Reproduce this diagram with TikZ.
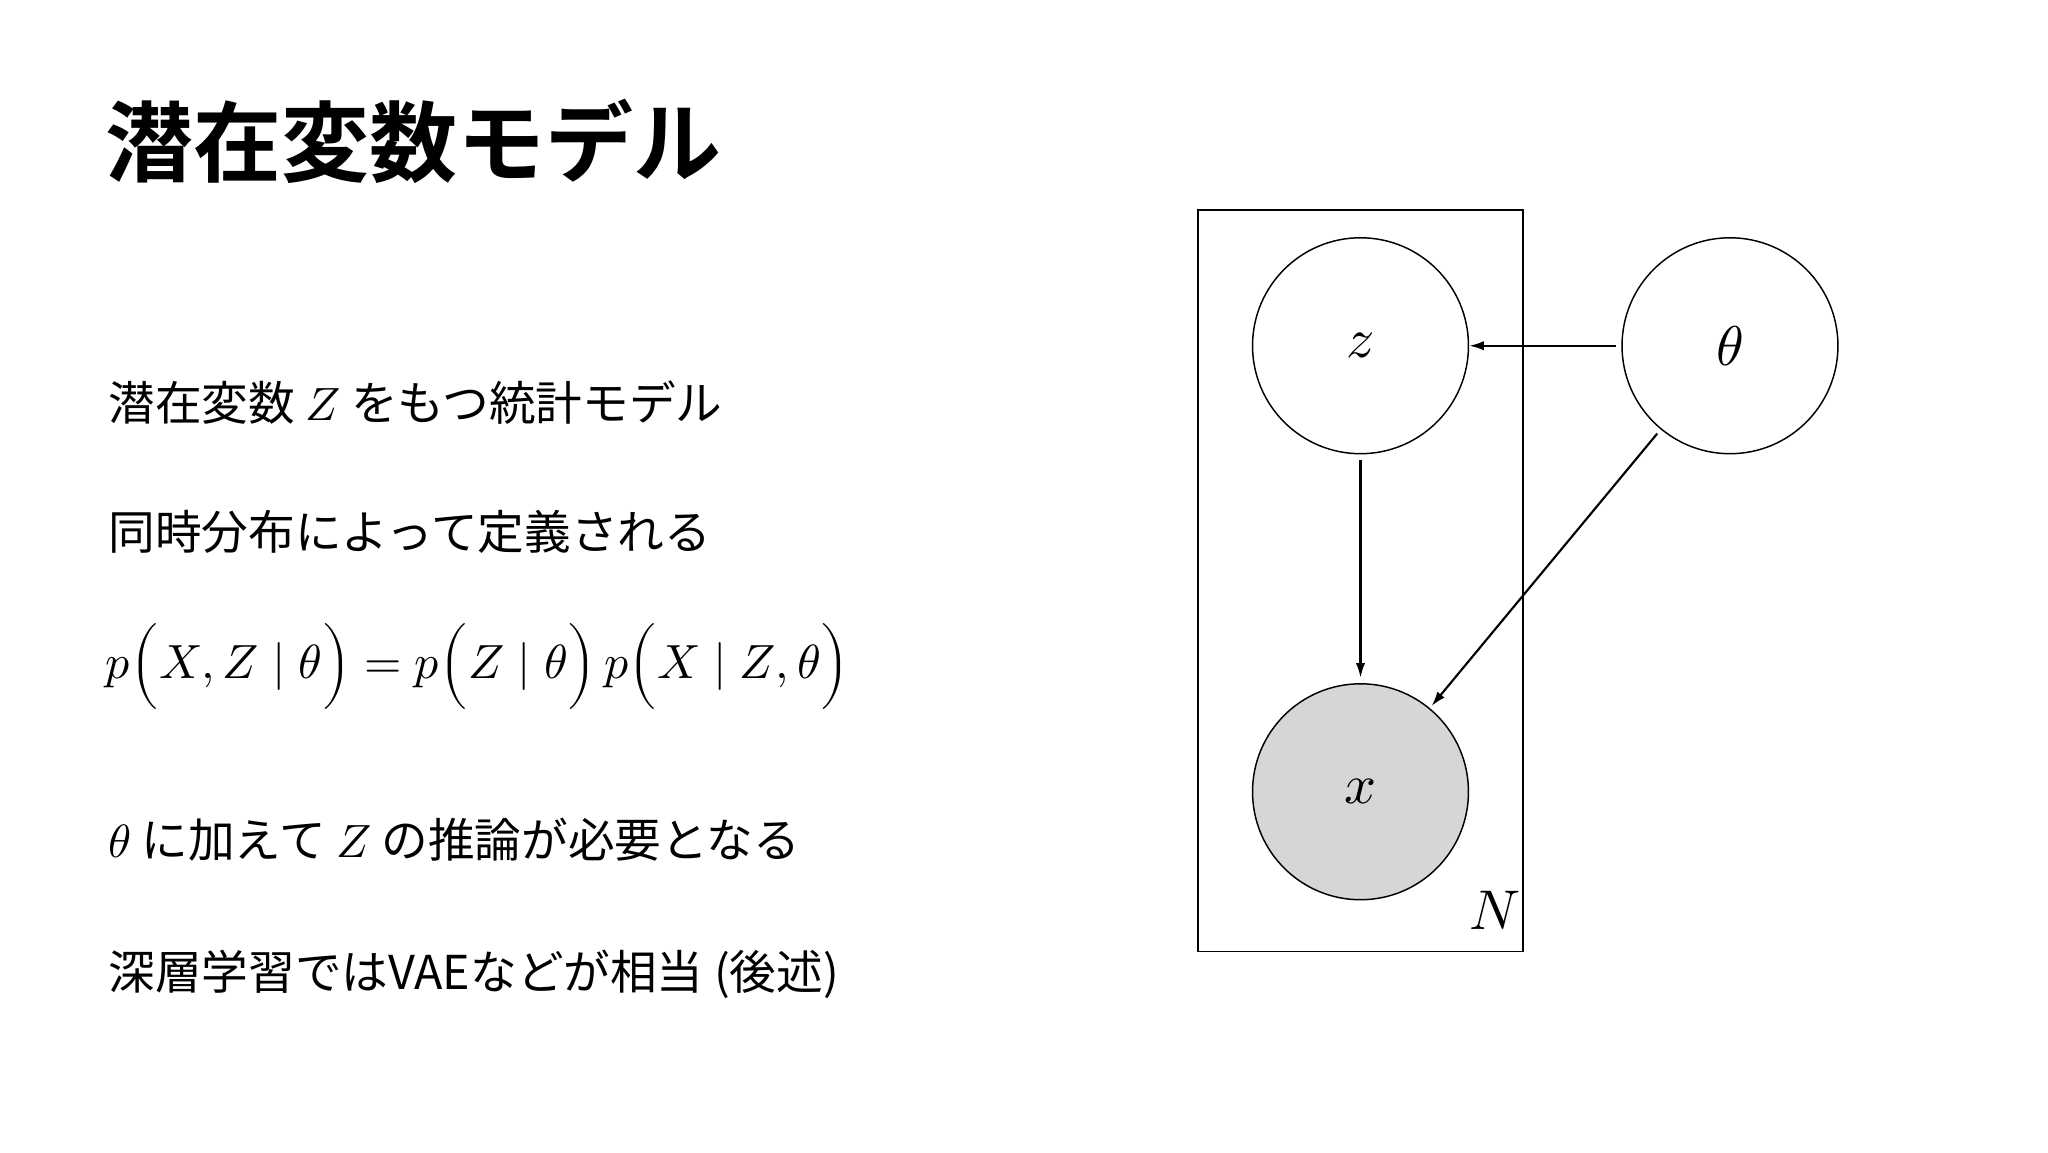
\documentclass[tikz,border=0pt]{standalone}
\usepackage{fontspec}
\usepackage{unicode-math}
\setmainfont{Noto Sans CJK JP}
\setmathfont{Latin Modern Math}
\newfontfamily\jpb{Noto Sans CJK JP Bold}
\usetikzlibrary{arrows.meta}
\begin{document}
\begin{tikzpicture}[x=0.99pt,y=-0.99pt,
  txt/.style={anchor=west,inner sep=0pt,font=\fontsize{35}{40}\selectfont},
  circ/.style={circle,draw,line width=1.1pt,minimum size=162pt,inner sep=0pt,font=\fontsize{42}{46}\selectfont},
  arr/.style={-{Latex[length=11pt,width=7pt]},line width=1.6pt}]
\useasboundingbox (0,0) rectangle (1552,873);
\node[anchor=west,inner sep=0pt,font=\fontsize{66}{74}\selectfont\jpb] (title) at (80,107) {潜在変数モデル};
\node[txt] (l1) at (82,305) {潜在変数 $Z$ をもつ統計モデル};
\node[txt] (l2) at (82,403) {同時分布によって定義される};
\node[txt,font=\fontsize{36}{40}\selectfont] (l3) at (80,505) {$p\Big(X,Z\mid\theta\Big)=p\Big(Z\mid\theta\Big)\,p\Big(X\mid Z,\theta\Big)$};
\node[txt] (l4) at (82,636) {$\theta$ に加えて $Z$ の推論が必要となる};
\node[txt] (l5) at (82,738) {深層学習ではVAEなどが相当 (後述)};
\draw[line width=1.1pt] (908,159) rectangle (1154,721);
\node[font=\fontsize{42}{46}\selectfont] (N) at (1133,690) {$N$};
\node[circ] (z) at (1031,262) {$z$};
\node[circ] (t) at (1311,262) {$\theta$};
\node[circ,fill={rgb,255:red,214;green,214;blue,214}] (x) at (1031,600) {$x$};
\draw[arr,shorten <=4pt] (t) -- (z);
\draw[arr,shorten <=4pt,shorten >=4pt] (z) -- (x);
\draw[arr,shorten <=4pt,shorten >=2pt] (t) -- (x);
\end{tikzpicture}
\end{document}
